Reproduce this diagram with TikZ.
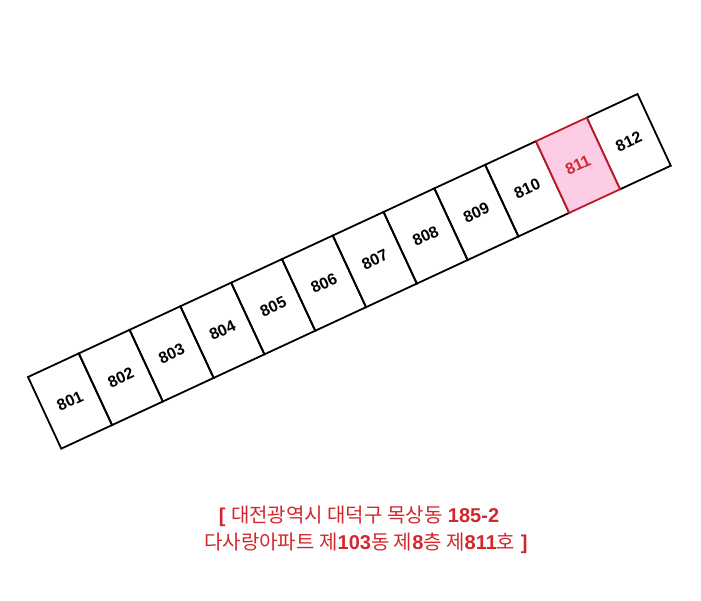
\documentclass[tikz,border=0pt]{standalone}
\usepackage{fontspec}
\setmainfont{Liberation Sans}
\newfontfamily\kr{Noto Sans CJK KR}
\definecolor{addrred}{RGB}{210,40,45}
\definecolor{selfill}{RGB}{252,205,228}
\definecolor{selline}{RGB}{190,25,40}
\tikzset{
  cell/.style={draw, line width=1.8pt, minimum width=56pt, minimum height=79pt,
    inner sep=0pt, font=\bfseries\fontsize{16}{18}\selectfont},
  selcell/.style={cell, fill=selfill, draw=selline, text=addrred},
  addr/.style={text=addrred, font=\fontsize{20}{24}\selectfont, inner sep=0pt}
}
\begin{document}
\begin{tikzpicture}[x=1pt,y=1pt]
\useasboundingbox (0,0) rectangle (701,600);
\fill[white] (0,0) rectangle (701,600);
% rooms of the 8th floor
\begin{scope}[shift={(28,223)}, rotate=24.9, transform shape]
  \foreach \n [count=\i] in {801,802,803,804,805,806,807,808,809,810,812} {
    \pgfmathsetmacro{\px}{\i<11 ? 56*\i-28 : 56*12-28}
    \node[cell] (c\n) at (\px,-39.5) {\n};
  }
  \node[selcell] (c811) at (56*11-28,-39.5) {811}; % selected room
\end{scope}
% address
\node[addr] (line1) at (359,84) {\textbf{[} {\kr 대전광역시 대덕구 목상동} \textbf{185-2}};
\node[addr] (line2) at (366,57) {{\kr 다사랑아파트 제}\textbf{103}{\kr 동 제}\textbf{8}{\kr 층 제}\textbf{811}{\kr 호} \textbf{]}};
\end{tikzpicture}
\end{document}
